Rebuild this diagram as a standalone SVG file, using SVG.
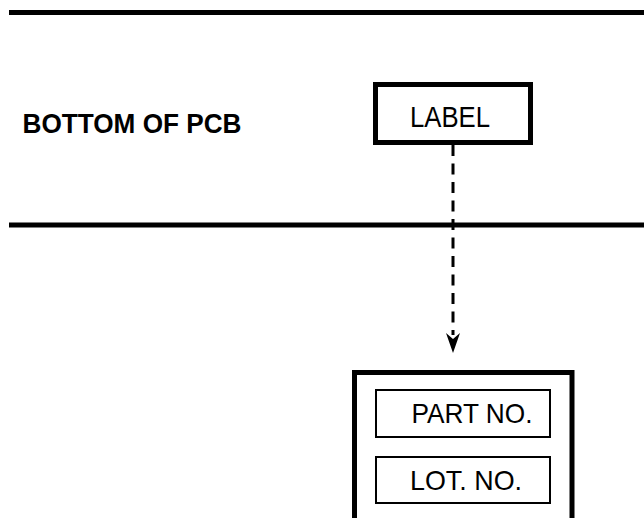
<svg xmlns="http://www.w3.org/2000/svg" width="644" height="518" viewBox="0 0 644 518">
<defs>
<style>
.t{font-family:"Liberation Sans",Arial,sans-serif;fill:#000}
.thick{stroke:#000;stroke-width:5;fill:none}
.thin{stroke:#000;stroke-width:2;fill:#fff}
</style>
</defs>
<rect width="644" height="518" fill="#fff"/>
<g id="pcb">
<line class="thick" x1="9" y1="12.5" x2="644" y2="12.5"/>
<line class="thick" x1="9" y1="225" x2="644" y2="225"/>
<text class="t" x="22.5" y="133" font-size="27.5" font-weight="bold" textLength="219" lengthAdjust="spacingAndGlyphs">BOTTOM OF PCB</text>
</g>
<g id="label">
<rect class="thick" x="375.5" y="84.5" width="155" height="58" fill="#fff"/>
<text class="t" x="410" y="126.5" font-size="29" textLength="80" lengthAdjust="spacingAndGlyphs">LABEL</text>
</g>
<g id="connectors">
<line x1="453" y1="145" x2="453" y2="335" stroke="#000" stroke-width="3" stroke-dasharray="11 7.5"/>
<path d="M453,353 L446,333 L453,339 L460,333 Z" fill="#000"/>
</g>
<g id="label-detail">
<rect class="thick" x="354.5" y="372.5" width="217.5" height="160" fill="#fff"/>
<g id="part-no">
<rect class="thin" x="376" y="390" width="174" height="47"/>
<text class="t" x="411.5" y="423" font-size="27.5" textLength="121" lengthAdjust="spacingAndGlyphs">PART NO.</text>
</g>
<g id="lot-no">
<rect class="thin" x="376" y="457" width="174" height="46"/>
<text class="t" x="410" y="490" font-size="27.5" textLength="112" lengthAdjust="spacingAndGlyphs">LOT. NO.</text>
</g>
</g>
</svg>
